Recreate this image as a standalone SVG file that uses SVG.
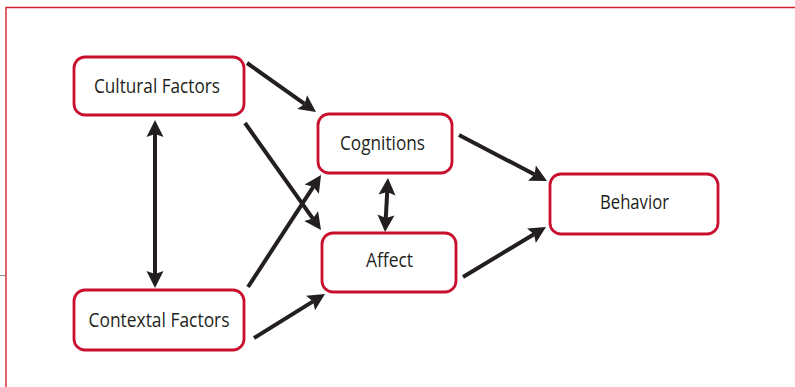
<svg xmlns="http://www.w3.org/2000/svg" width="795" height="387" viewBox="0 0 795 387">
<defs>
<style>
.node rect{fill:#fff;stroke:#c8102e;stroke-width:2.8}
.node text{font-family:"Open Sans","Noto Sans",sans-serif;font-size:19.5px;fill:#231f20;text-anchor:middle}
.conn line{stroke:#231f20;stroke-width:4;stroke-linecap:butt}
.frame{stroke:#d0212f;stroke-width:1.4;fill:none}
</style>
<marker id="ah" markerUnits="userSpaceOnUse" viewBox="-4 -9 20 18" refX="0" refY="0" markerWidth="20" markerHeight="18" orient="auto-start-reverse">
<path d="M14,0 L-3,-8.5 L0,0 L-3,8.5 Z" fill="#231f20"/>
</marker>
</defs>
<rect width="795" height="387" fill="#fff"/>
<path class="frame" d="M6,387 V7.5 H795"/>
<line x1="0" y1="275.5" x2="6" y2="275.5" stroke="#888" stroke-width="1"/>
<g id="connectors" class="conn">
<line x1="247" y1="63" x2="304.6" y2="103.9" marker-end="url(#ah)"/>
<line x1="245" y1="123" x2="312.9" y2="218.6" marker-end="url(#ah)"/>
<line x1="248" y1="287" x2="313.4" y2="186.7" marker-end="url(#ah)"/>
<line x1="254" y1="338" x2="313.1" y2="301.4" marker-end="url(#ah)"/>
<line x1="387.2" y1="192" x2="385.8" y2="218" marker-start="url(#ah)" marker-end="url(#ah)"/>
<line x1="155" y1="134" x2="155" y2="274" marker-start="url(#ah)" marker-end="url(#ah)"/>
<line x1="459" y1="135" x2="534.6" y2="174.5" marker-end="url(#ah)"/>
<line x1="463" y1="277" x2="534" y2="234.2" marker-end="url(#ah)"/>
</g>
<g id="cultural" class="node">
<rect x="74" y="57" width="170" height="58" rx="11"/>
<text x="157" y="93" textLength="126" lengthAdjust="spacingAndGlyphs">Cultural Factors</text>
</g>
<g id="contextal" class="node">
<rect x="74" y="290" width="170" height="60" rx="11"/>
<text x="159" y="327" textLength="141" lengthAdjust="spacingAndGlyphs">Contextal Factors</text>
</g>
<g id="cognitions" class="node">
<rect x="318" y="114" width="134" height="59" rx="11"/>
<text x="382.5" y="150" textLength="85" lengthAdjust="spacingAndGlyphs">Cognitions</text>
</g>
<g id="affect" class="node">
<rect x="322" y="233" width="134" height="59" rx="11"/>
<text x="389.5" y="267" textLength="47" lengthAdjust="spacingAndGlyphs">Affect</text>
</g>
<g id="behavior" class="node">
<rect x="550" y="174" width="168" height="60" rx="11"/>
<text x="634.5" y="209" textLength="69" lengthAdjust="spacingAndGlyphs">Behavior</text>
</g>
</svg>
